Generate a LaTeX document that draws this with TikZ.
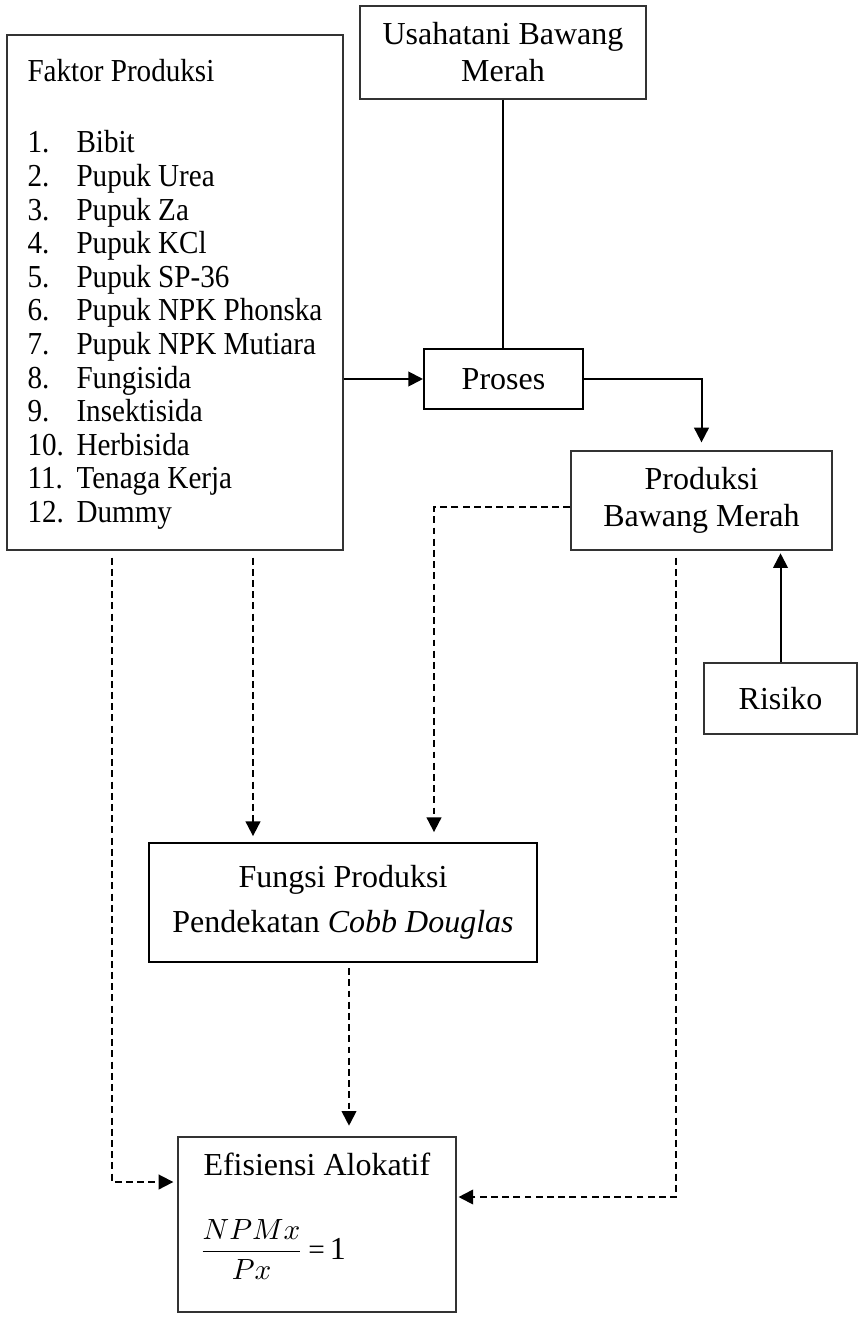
\documentclass[tikz,border=0pt]{standalone}
\usepackage{fontspec}
\setmainfont{Liberation Serif}
\newfontfamily\sempit[FakeStretch=0.91]{Liberation Serif}
\usetikzlibrary{arrows.meta}

\tikzset{
  kotak/.style={draw=black!80, line width=0.5pt, align=center, inner sep=0pt,
    font=\fontsize{12}{13.9}\selectfont},
  tebal/.style={draw=black, line width=0.8pt},
  tulisan/.style={inner sep=0pt, anchor=base west, font=\fontsize{12}{13.9}\selectfont},
  kecil/.style={tulisan, font=\sempit\fontsize{12}{12.6}\selectfont},
  panah/.style={line width=0.75pt, -{Triangle[length=5.5pt,width=5.5pt]}},
  putus/.style={panah, line width=0.7pt, dash pattern=on 2.6pt off 1.6pt},
}

\begin{document}
\begin{tikzpicture}[x=0.375pt,y=-0.375pt]
\useasboundingbox (0,0) rectangle (865,1321);

% kotak-kotak
\node[kotak, minimum width=126pt, minimum height=193.1pt] (faktor) at (175,292.5) {};
\node[kecil] (judul) at (27,82) {Faktor Produksi};
\foreach \t [count=\i] in {Bibit, Pupuk Urea, Pupuk Za, Pupuk KCl, Pupuk SP-36,
  Pupuk NPK Phonska, Pupuk NPK Mutiara, Fungisida, Insektisida, Herbisida,
  Tenaga Kerja, Dummy}{
  \node[kecil] (no\i) at (27,{153+33.6*(\i-1)}) {\i.};
  \node[kecil] (item\i) at (76,{153+33.6*(\i-1)}) {\t};
}
\node[kotak, minimum width=107.25pt, minimum height=34.9pt] (usaha) at (503,52.5)
  {Usahatani Bawang\\Merah};
\node[kotak, tebal, minimum width=59.6pt, minimum height=22.5pt] (proses) at (503.5,379) {Proses};
\node[kotak, minimum width=97.9pt, minimum height=37.1pt] (produksi) at (701.5,500.5)
  {Produksi\\Bawang Merah};
\node[kotak, minimum width=57.4pt, minimum height=26.6pt] (risiko) at (780.5,698.5) {Risiko};
\node[kotak, tebal, minimum width=145.5pt, minimum height=44.6pt] (fungsi) at (343,902.5)
  {Fungsi Produksi\\[3pt]Pendekatan \textit{Cobb Douglas}};
\node[kotak, minimum width=104.25pt, minimum height=65.6pt] (efisiensi) at (317,1224.5) {};
\node[tulisan] (efjudul) at (203,1175) {Efisiensi Alokatif};
\node[tulisan, font=\fontsize{11}{13}\selectfont] (rumus) at (199,1259)
  {$\displaystyle\frac{NPMx}{Px}$\,=\,\fontsize{12}{13}\selectfont 1};

% titik bantu
\coordinate (xa) at (112,0);
\coordinate (xb) at (253,0);
\coordinate (xc) at (434,0);
\coordinate (xd) at (676,0);
\coordinate (xe) at (349,0);
\coordinate (ya) at (0,1182);
\coordinate (yb) at (0,1197);
\coordinate (yc) at (0,507);

% garis
\draw[line width=0.75pt] (usaha.south) -- (usaha.south |- proses.north);
\draw[panah] (proses.west -| faktor.east) -- (proses.west);
\draw[panah, shorten >=3pt] (proses.east) -| (produksi.north);
\draw[panah, shorten >=1pt] (risiko.north) -- (risiko.north |- produksi.south);

% garis putus
\draw[putus, shorten <=2.6pt, shorten >=1.5pt] (faktor.south -| xa) |- (efisiensi.west |- ya);
\draw[putus, shorten <=2.6pt, shorten >=2.2pt] (faktor.south -| xb) -- (fungsi.north -| xb);
\draw[putus, shorten >=3.7pt] (produksi.west |- yc) -| (fungsi.north -| xc);
\draw[putus, shorten <=2.6pt, shorten >=0.7pt] (produksi.south -| xd) |- (efisiensi.east |- yb);
\draw[putus, shorten <=1.9pt, shorten >=4pt] (fungsi.south -| xe) -- (efisiensi.north -| xe);
\end{tikzpicture}
\end{document}
